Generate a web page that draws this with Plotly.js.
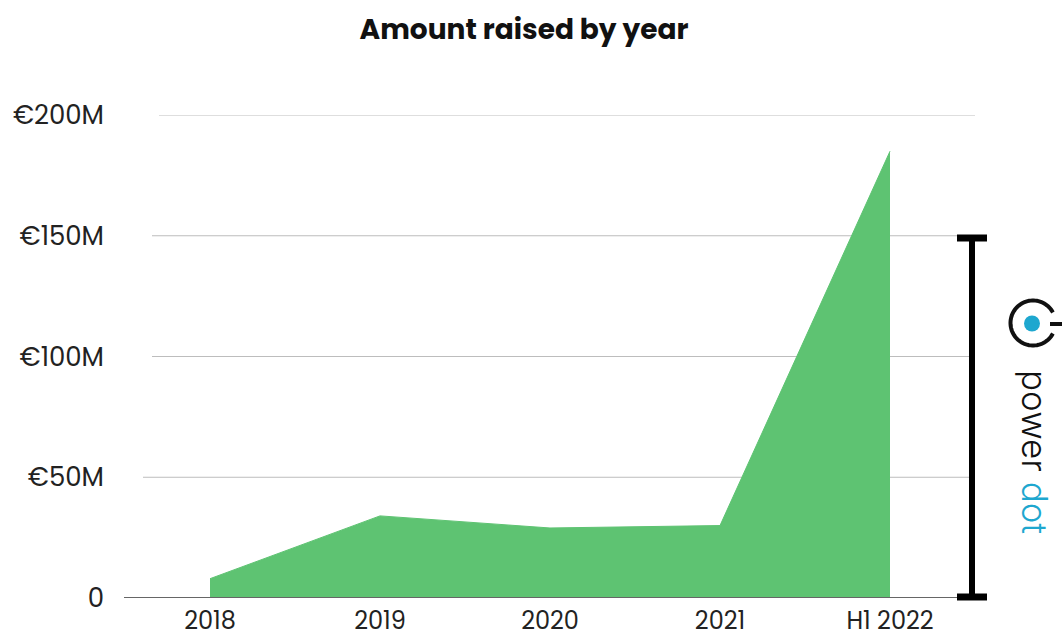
<!DOCTYPE html>
<html>
<head>
<meta charset="utf-8">
<script src="https://cdn.plot.ly/plotly-3.0.1.min.js"></script>
<style>html,body{margin:0;padding:0;background:#fff;}#chart{width:1062px;height:634px;}</style>
</head>
<body>
<div id="chart"></div>
<script>
// ---- data ----
const categories = ['2018', '2019', '2020', '2021', 'H1 2022'];
const amountRaisedM = [8, 34, 29, 30, 185];
const yTickValues = [0, 50, 100, 150, 200];
const yTickLabels = ['0', '€50M', '€100M', '€150M', '€200M'];
const chartTitle = 'Amount raised by year';

// ---- layout geometry (style) ----
const W = 1062, H = 634;
const M = {l: 125, r: 87, t: 115, b: 36};
const plotW = W - M.l - M.r, plotH = H - M.t - M.b;
const PX = px => (px - M.l) / plotW;          // pixel x -> paper x
const PY = py => (H - M.b - py) / plotH;      // pixel y -> paper y
const gridStartPx = [124, 143, 152, 152, 159];
const gridEndPx = 975;
const FONT = 'Poppins, Inter, "Open Sans", sans-serif';
const GREEN = '#5ec372';
const CYAN = '#1ea7cf';

const shapes = [];
yTickValues.forEach((v, i) => {
  shapes.push({
    type: 'line', xref: 'paper', yref: 'y',
    x0: PX(gridStartPx[i]), x1: PX(gridEndPx), y0: v, y1: v,
    line: {color: v === 0 ? '#666666' : '#bdbdbd', width: v === 0 ? 2 : 1},
    layer: v === 0 ? 'above' : 'below'
  });
});

// bracket
const bx = 972, bTop = 238, bBot = 597;
shapes.push({type: 'line', xref: 'paper', yref: 'paper', x0: PX(bx), x1: PX(bx), y0: PY(bTop), y1: PY(bBot), line: {color: '#000', width: 6}});
[bTop, bBot].forEach(py => {
  shapes.push({type: 'line', xref: 'paper', yref: 'paper', x0: PX(957), x1: PX(987), y0: PY(py), y1: PY(py), line: {color: '#000', width: 7}});
});

// power icon
const cx = 1033, cy = 323, r = 22.5;
let path = '';
for (let a = 28; a <= 332; a += 4) {
  const rad = a * Math.PI / 180;
  const x = cx + r * Math.cos(rad), y = cy - r * Math.sin(rad);
  path += (path ? ' L ' : 'M ') + PX(x).toFixed(5) + ',' + PY(y).toFixed(5);
}
shapes.push({type: 'path', xref: 'paper', yref: 'paper', path: path, line: {color: '#111', width: 4}});
shapes.push({type: 'line', xref: 'paper', yref: 'paper', x0: PX(1050), x1: PX(1064), y0: PY(324), y1: PY(324), line: {color: '#111', width: 4}});
shapes.push({type: 'circle', xref: 'paper', yref: 'paper', x0: PX(1024), x1: PX(1040), y0: PY(331.5), y1: PY(315.5), fillcolor: CYAN, line: {width: 0}});

const trace = {
  type: 'scatter',
  x: categories,
  y: amountRaisedM,
  mode: 'lines',
  fill: 'tozeroy',
  fillcolor: GREEN,
  line: {color: GREEN, width: 1},
  hoverinfo: 'x+y'
};

const layout = {
  width: W, height: H,
  margin: M,
  paper_bgcolor: '#fff', plot_bgcolor: '#fff',
  showlegend: false,
  font: {family: FONT, color: '#222'},
  title: {
    text: '<b>' + chartTitle + '</b>',
    font: {family: FONT, size: 28, color: '#111'},
    x: 524 / W, xref: 'container', xanchor: 'center',
    y: 1 - 29 / H, yref: 'container', yanchor: 'middle'
  },
  xaxis: {
    type: 'category', range: [-0.5, 4.5],
    showgrid: false, zeroline: false, showline: false,
    ticks: '', ticklabelstandoff: 6,
    tickfont: {family: FONT, size: 24, color: '#222'}
  },
  yaxis: {
    range: [0, 200],
    tickvals: yTickValues, ticktext: yTickLabels,
    showgrid: false, zeroline: false, showline: false,
    ticks: '', ticklabelstandoff: 20,
    tickfont: {family: FONT, size: 26, color: '#222'}
  },
  shapes: shapes,
  annotations: [{
    xref: 'paper', yref: 'paper',
    x: PX(1035), y: PY(452), xanchor: 'center', yanchor: 'middle',
    text: 'power <span style="color:' + CYAN + '">dot</span>',
    textangle: 90, showarrow: false,
    font: {family: 'Inter, sans-serif', size: 35, color: '#111', weight: 300}
  }]
};

Plotly.newPlot('chart', [trace], layout, {displayModeBar: false, staticPlot: true});
</script>
</body>
</html>
